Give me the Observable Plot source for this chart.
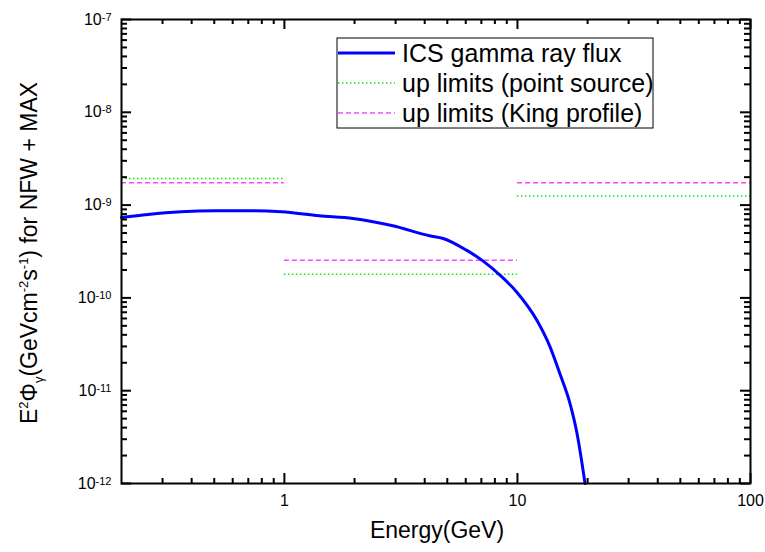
<!DOCTYPE html>
<html><head><meta charset="utf-8">
<script src="https://cdn.jsdelivr.net/npm/d3@7"></script>
<script src="https://cdn.jsdelivr.net/npm/@observablehq/plot@0.6"></script>
<style>body{margin:0;background:#fff} svg{display:block}</style>
</head><body><div id="chart"></div>
<script>
// ICS gamma-ray flux curve (GeV, GeV cm^-2 s^-1)
const energy  = [0.2, 0.26, 0.36, 0.5, 0.74, 0.97, 1.41, 1.97, 2.92, 4.2, 4.8, 6.04, 7.13, 8.41, 9.92, 12.1, 13.8, 15.2, 16.8, 18.0, 19.5];
const icsFlux = [7.37e-10, 7.94e-10, 8.47e-10, 8.68e-10, 8.68e-10, 8.47e-10, 7.67e-10, 7.18e-10, 5.98e-10, 4.67e-10, 4.37e-10, 3.27e-10, 2.49e-10, 1.76e-10, 1.16e-10, 5.77e-11, 2.97e-11, 1.53e-11, 7.3e-12, 3.5e-12, 1.0e-12];
// energy bins of the upper limits
const binLo = [0.2, 1, 10];
const binHi = [1, 10, 100];
const pointSourceLimit = [1.94e-9, 1.8e-10, 1.25e-9];
const kingProfileLimit = [1.74e-9, 2.54e-10, 1.74e-9];
// ticks
const xTickLabels = [1, 10, 100];
const yTickExponents = [-12, -11, -10, -9, -8, -7];
const legendLabels = ["ICS gamma ray flux", "up limits (point source)", "up limits (King profile)"];
const xLabel = "Energy(GeV)";

const W = 765, H = 552, mL = 121, mR = 15, mT = 19, mB = 69;
const fw = W - mL - mR, fh = H - mT - mB;

const curve = energy.map((e, i) => ({e, f: icsFlux[i]}));
const ps = binLo.map((lo, i) => ({lo, hi: binHi[i], v: pointSourceLimit[i]}));
const king = binLo.map((lo, i) => ({lo, hi: binHi[i], v: kingProfileLimit[i]}));

const xMinor = [];
[0.1, 1, 10].forEach(d => { for (let k = 2; k <= 9; k++) { const v = d * k; if (v > 0.2 + 1e-9 && v < 100) xMinor.push(v); } });
const yMajor = yTickExponents.map(e => 10 ** e);
const yMinor = [];
yTickExponents.slice(0, -1).forEach(e => { for (let k = 2; k <= 9; k++) yMinor.push(k * 10 ** e); });

const col = {ics: "#0000ff", ps: "#00ee00", king: "#ff44ff"};
const tk = {stroke: "black", strokeWidth: 2};

const plot = Plot.plot({
  width: W, height: H,
  marginLeft: mL, marginRight: mR, marginTop: mT, marginBottom: mB,
  x: {type: "log", domain: [0.2, 100]},
  y: {type: "log", domain: [1e-12, 1e-7]},
  marks: [
    Plot.ruleY(ps, {x1: "lo", x2: "hi", y: "v", stroke: col.ps, strokeWidth: 1.5, strokeDasharray: "1.5,2.5"}),
    Plot.ruleY(king, {x1: "lo", x2: "hi", y: "v", stroke: col.king, strokeWidth: 1.5, strokeDasharray: "5,3"}),
    Plot.line(curve, {x: "e", y: "f", stroke: col.ics, strokeWidth: 3, curve: "monotone-x"}),
    // inward ticks on all four sides
    Plot.tickX(xMinor, {x: d => d, insetTop: fh - 5, ...tk}),
    Plot.tickX(xTickLabels, {x: d => d, insetTop: fh - 10, ...tk}),
    Plot.tickX(xMinor, {x: d => d, insetBottom: fh - 5, ...tk}),
    Plot.tickX(xTickLabels, {x: d => d, insetBottom: fh - 10, ...tk}),
    Plot.tickY(yMinor, {y: d => d, insetRight: fw - 6, ...tk}),
    Plot.tickY(yMajor, {y: d => d, insetRight: fw - 10, ...tk}),
    Plot.tickY(yMinor, {y: d => d, insetLeft: fw - 6, ...tk}),
    Plot.tickY(yMajor, {y: d => d, insetLeft: fw - 10, ...tk}),
    Plot.frame({stroke: "black", strokeWidth: 2}),
    Plot.axisX({ticks: xTickLabels, tickSize: 0, tickPadding: 11, fontSize: 16, label: null, tickFormat: d => String(d)}),
    Plot.axisY({ticks: yMajor, tickSize: 0, tickPadding: 10, fontSize: 16, label: null, tickFormat: d => "10^" + Math.round(Math.log10(d))}),
    Plot.text([xLabel], {frameAnchor: "bottom", dy: 54, dx: 1, fontSize: 23})
  ]
});

const svg = d3.select(plot).attr("font-family", "'Liberation Sans', Arial, sans-serif");

// superscript exponents on y tick labels
svg.selectAll('g[aria-label="y-axis tick label"] text').each(function () {
  const t = d3.select(this);
  const m = t.text().match(/^10\^(-?\d+)$/);
  if (!m) return;
  t.text(null);
  t.append("tspan").text("10");
  t.append("tspan").attr("dy", -4).attr("font-size", 11).text(m[1]);
});

// y-axis label with super/subscripts
const yl = svg.append("text")
  .attr("transform", "translate(37,253) rotate(-90)")
  .attr("text-anchor", "middle").attr("font-size", 23).attr("fill", "black");
const parts = [["E", 0], ["2", -9], ["Φ", 0], ["γ", 6], ["(GeVcm", 0], ["-2", -9], ["s", 0], ["-1", -9], [") for NFW + MAX", 0]];
let cur = 0;
parts.forEach(([s, off]) => {
  const ts = yl.append("tspan").attr("dy", off - cur).text(s);
  if (off !== 0) ts.attr("font-size", 13);
  cur = off;
});

// legend
const lg = svg.append("g");
lg.append("rect").attr("x", 337).attr("y", 38).attr("width", 316).attr("height", 90)
  .attr("fill", "white").attr("stroke", "black").attr("stroke-width", 1);
const styles = [
  {stroke: col.ics, w: 3, dash: null},
  {stroke: col.ps, w: 1.5, dash: "1.5,2.5"},
  {stroke: col.king, w: 1.5, dash: "5,3"}
];
legendLabels.forEach((lab, i) => {
  const cy = 53 + i * 30;
  lg.append("line").attr("x1", 338).attr("x2", 395).attr("y1", cy).attr("y2", cy)
    .attr("stroke", styles[i].stroke).attr("stroke-width", styles[i].w)
    .attr("stroke-dasharray", styles[i].dash);
  lg.append("text").attr("x", 402).attr("y", cy + 8.7).attr("text-anchor", "start")
    .attr("font-size", 25).attr("fill", "black").text(lab);
});

document.getElementById("chart").appendChild(plot);
</script>
</body></html>
